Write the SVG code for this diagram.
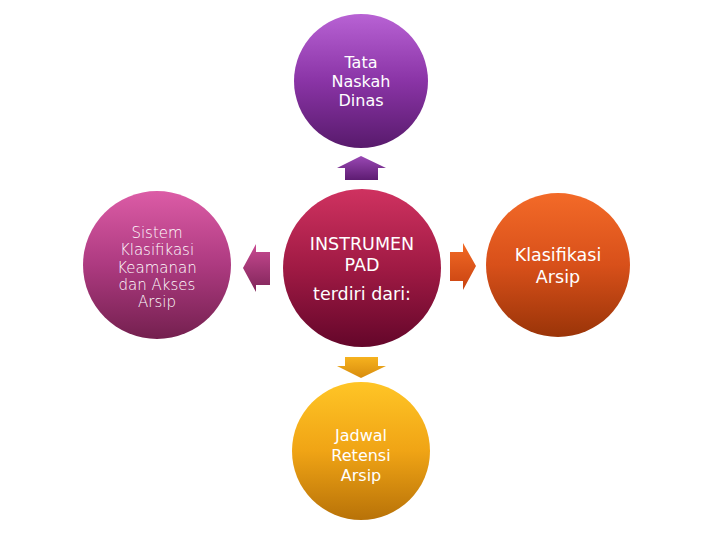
<svg xmlns="http://www.w3.org/2000/svg" width="720" height="540" viewBox="0 0 720 540">
  <defs>
    <linearGradient id="gPurple" x1="0" y1="0" x2="0" y2="1">
      <stop offset="0" stop-color="#b862d4"/>
      <stop offset="0.5" stop-color="#8a34a6"/>
      <stop offset="1" stop-color="#581a6c"/>
    </linearGradient>
    <linearGradient id="gPink" x1="0" y1="0" x2="0" y2="1">
      <stop offset="0" stop-color="#dc5ca6"/>
      <stop offset="0.5" stop-color="#ad3a80"/>
      <stop offset="1" stop-color="#74204f"/>
    </linearGradient>
    <linearGradient id="gCrimson" x1="0" y1="0" x2="0" y2="1">
      <stop offset="0" stop-color="#cf3260"/>
      <stop offset="0.5" stop-color="#a01a44"/>
      <stop offset="1" stop-color="#64062a"/>
    </linearGradient>
    <linearGradient id="gOrange" x1="0" y1="0" x2="0" y2="1">
      <stop offset="0" stop-color="#f36a28"/>
      <stop offset="0.5" stop-color="#d8501a"/>
      <stop offset="1" stop-color="#9a3408"/>
    </linearGradient>
    <linearGradient id="gGold" x1="0" y1="0" x2="0" y2="1">
      <stop offset="0" stop-color="#ffc526"/>
      <stop offset="0.5" stop-color="#f0a415"/>
      <stop offset="1" stop-color="#b87208"/>
    </linearGradient>
    <linearGradient id="aPurple" x1="0" y1="0" x2="0" y2="1">
      <stop offset="0" stop-color="#9a48b4"/>
      <stop offset="1" stop-color="#5e1c72"/>
    </linearGradient>
    <linearGradient id="aPink" x1="0" y1="0" x2="0" y2="1">
      <stop offset="0" stop-color="#c94a92"/>
      <stop offset="1" stop-color="#7e2458"/>
    </linearGradient>
    <linearGradient id="aOrange" x1="0" y1="0" x2="0" y2="1">
      <stop offset="0" stop-color="#f26a26"/>
      <stop offset="1" stop-color="#c84210"/>
    </linearGradient>
    <linearGradient id="aGold" x1="0" y1="0" x2="0" y2="1">
      <stop offset="0" stop-color="#f6b21e"/>
      <stop offset="1" stop-color="#d88c0e"/>
    </linearGradient>
  </defs>
  <style>
    text { fill: #ffffff; font-family: "DejaVu Sans", Verdana, sans-serif; text-anchor: middle; }
    .t16 { font-size: 16px; }
    .thin { font-size: 15px; font-weight: 200; }
    .big { font-size: 17.5px; }
  </style>
  <rect width="720" height="540" fill="#ffffff"/>

  <g id="connectors">
    <path id="arrow-up" d="M361 156 L386 168 L378 168 L378 180 L345 180 L345 168 L337 168 Z" fill="url(#aPurple)"/>
    <path id="arrow-left" d="M243 268 L256 244 L256 252 L270 252 L270 285 L256 285 L256 292 Z" fill="url(#aPink)"/>
    <path id="arrow-right" d="M476 266 L463 243 L463 252 L450 252 L450 281 L463 281 L463 290 Z" fill="url(#aOrange)"/>
    <path id="arrow-down" d="M361 378 L386 366 L378 366 L378 357 L345 357 L345 366 L337 366 Z" fill="url(#aGold)"/>
  </g>

  <g id="node-tata">
    <circle cx="361" cy="81" r="67" fill="url(#gPurple)"/>
    <text class="t16" x="361" y="68">Tata</text>
    <text class="t16" x="361" y="87">Naskah</text>
    <text class="t16" x="361" y="106">Dinas</text>
  </g>

  <g id="node-sistem">
    <circle cx="157" cy="265" r="74" fill="url(#gPink)"/>
    <text class="thin" x="157" y="238">Sistem</text>
    <text class="thin" x="157" y="255">Klasifikasi</text>
    <text class="thin" x="157" y="273">Keamanan</text>
    <text class="thin" x="157" y="290">dan Akses</text>
    <text class="thin" x="157" y="307">Arsip</text>
  </g>

  <g id="node-instrumen">
    <circle cx="362" cy="268" r="79" fill="url(#gCrimson)"/>
    <text class="big" x="362" y="250">INSTRUMEN</text>
    <text class="big" x="362" y="271">PAD</text>
    <text class="big" x="362" y="300">terdiri dari:</text>
  </g>

  <g id="node-klasifikasi">
    <circle cx="558" cy="265" r="72" fill="url(#gOrange)"/>
    <text class="big" x="558" y="261">Klasifikasi</text>
    <text class="big" x="558" y="283">Arsip</text>
  </g>

  <g id="node-jadwal">
    <circle cx="361" cy="451" r="69" fill="url(#gGold)"/>
    <text class="t16" x="361" y="441">Jadwal</text>
    <text class="t16" x="361" y="461">Retensi</text>
    <text class="t16" x="361" y="481">Arsip</text>
  </g>
</svg>
